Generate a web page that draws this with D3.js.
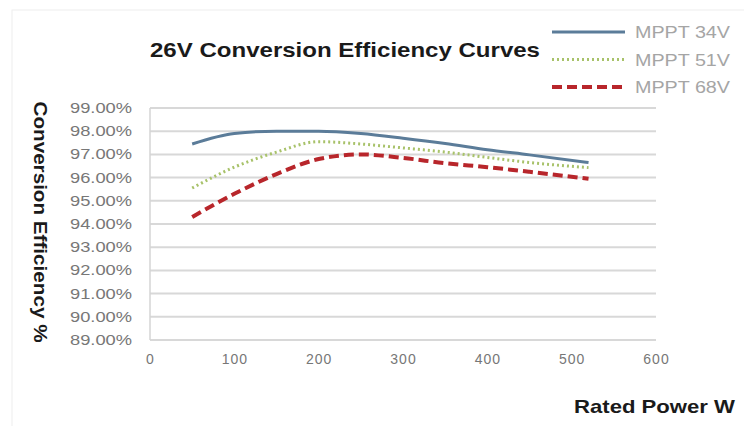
<!DOCTYPE html>
<html><head><meta charset="utf-8">
<script src="https://cdn.jsdelivr.net/npm/d3@7"></script>
<style>body{margin:0;background:#fff}svg{display:block}</style>
</head><body>
<script>
const powerW = [50, 100, 150, 200, 250, 300, 350, 400, 450, 520];
const mppt34 = [97.45, 97.9, 98.0, 98.0, 97.9, 97.7, 97.47, 97.2, 96.98, 96.65];
const mppt51 = [95.55, 96.45, 97.1, 97.55, 97.45, 97.28, 97.1, 96.87, 96.65, 96.43];
const mppt68 = [94.3, 95.3, 96.15, 96.8, 97.0, 96.85, 96.62, 96.45, 96.25, 95.95];
const seriesNames = ["MPPT 34V", "MPPT 51V", "MPPT 68V"];
const xTicks = [0, 100, 200, 300, 400, 500, 600];
const yTicks = [89, 90, 91, 92, 93, 94, 95, 96, 97, 98, 99];

const W = 744, H = 426;
const svg = d3.select("body").append("svg").attr("width", W).attr("height", H);
const font = "'Liberation Sans', Arial, sans-serif";

svg.append("rect").attr("x", 12).attr("y", 10).attr("width", 740).attr("height", 430)
  .attr("fill", "none").attr("stroke", "#eeeeee");

const x = d3.scaleLinear().domain([0, 600]).range([150, 656]);
const y = d3.scaleLinear().domain([89, 99]).range([340, 108]);

// gridlines
svg.append("g").selectAll("line").data(yTicks).join("line")
  .attr("x1", x(0)).attr("x2", x(600))
  .attr("y1", d => y(d)).attr("y2", d => y(d))
  .attr("stroke", "#d8d8d8").attr("stroke-width", 2);
svg.append("line").attr("x1", x(0)).attr("x2", x(0)).attr("y1", y(99)).attr("y2", y(89))
  .attr("stroke", "#d4d4d4").attr("stroke-width", 1.5);

// axes
const yAxis = svg.append("g").attr("transform", `translate(${x(0)},0)`)
  .call(d3.axisLeft(y).tickValues(yTicks).tickFormat(d => d.toFixed(2) + "%").tickSize(0).tickPadding(18));
yAxis.select(".domain").remove();
yAxis.selectAll("text").attr("font-family", font).attr("font-size", 14).attr("fill", "#777")
  .attr("textLength", 62).attr("lengthAdjust", "spacingAndGlyphs");

const xAxis = svg.append("g").attr("transform", `translate(0,${y(89)})`)
  .call(d3.axisBottom(x).tickValues(xTicks).tickFormat(d3.format("d")).tickSize(0).tickPadding(14));
xAxis.select(".domain").remove();
xAxis.selectAll("text").attr("font-family", font).attr("font-size", 14).attr("fill", "#777")
  .attr("letter-spacing", 1);

// lines
const styles = [
  {data: mppt34, color: "#5b7c99", width: 3, dash: null},
  {data: mppt51, color: "#a8c26a", width: 3, dash: "2,3"},
  {data: mppt68, color: "#b8262b", width: 4, dash: "10,5"}
];
const line = d3.line().x(d => x(d[0])).y(d => y(d[1])).curve(d3.curveMonotoneX);
styles.forEach(s => {
  svg.append("path").datum(powerW.map((p, i) => [p, s.data[i]]))
    .attr("d", line).attr("fill", "none").attr("stroke", s.color)
    .attr("stroke-width", s.width).attr("stroke-dasharray", s.dash);
});

// title
svg.append("text").attr("x", 150).attr("y", 57)
  .attr("font-family", font).attr("font-weight", "bold").attr("font-size", 21)
  .attr("textLength", 390).attr("lengthAdjust", "spacingAndGlyphs")
  .attr("fill", "#1a1a1a").text("26V Conversion Efficiency Curves");

// legend
const lg = svg.append("g");
seriesNames.forEach((n, i) => {
  const yy = 32 + i * 27.5;
  lg.append("line").attr("x1", 552).attr("x2", 625).attr("y1", yy).attr("y2", yy)
    .attr("stroke", styles[i].color).attr("stroke-width", styles[i].width)
    .attr("stroke-dasharray", styles[i].dash);
  lg.append("text").attr("x", 635).attr("y", yy + 6).attr("font-family", font)
    .attr("font-size", 16).attr("textLength", 95).attr("lengthAdjust", "spacingAndGlyphs")
    .attr("fill", "#a5a5a5").text(n);
});

// axis titles
svg.append("text").attr("transform", `translate(34,222) rotate(90)`).attr("text-anchor", "middle")
  .attr("font-family", font).attr("font-weight", "bold").attr("font-size", 19).attr("fill", "#1a1a1a")
  .attr("textLength", 241).attr("lengthAdjust", "spacingAndGlyphs")
  .text("Conversion Efficiency %");
svg.append("text").attr("x", 574).attr("y", 413)
  .attr("font-family", font).attr("font-weight", "bold").attr("font-size", 19).attr("fill", "#1a1a1a")
  .attr("textLength", 161).attr("lengthAdjust", "spacingAndGlyphs")
  .text("Rated Power W");
</script>
</body></html>
